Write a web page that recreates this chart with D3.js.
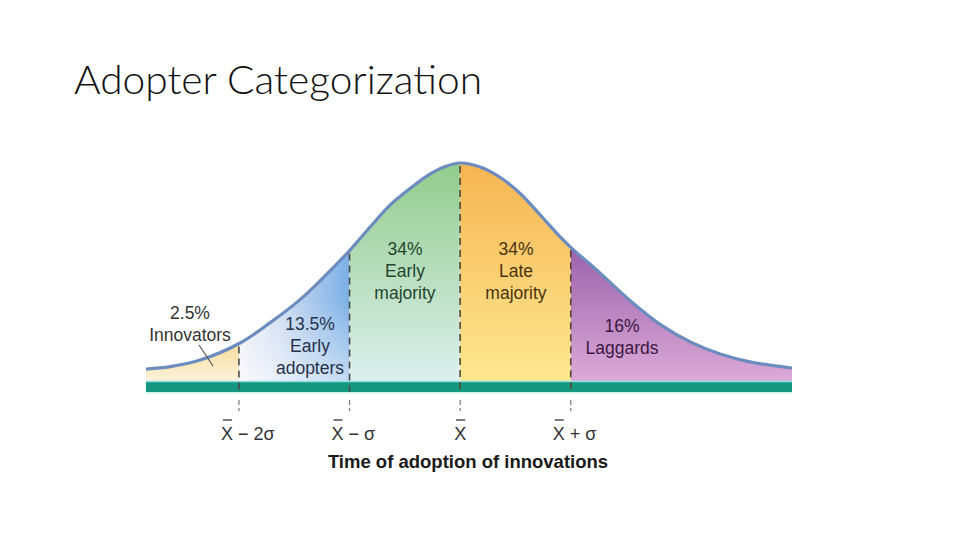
<!DOCTYPE html>
<html>
<head>
<meta charset="utf-8">
<script src="https://cdn.jsdelivr.net/npm/d3@7"></script>
<style>
  html, body { margin: 0; padding: 0; background: #fff; }
  svg { display: block; }
</style>
</head>
<body>
<svg id="chart" width="960" height="540"></svg>
<script>
// ---- DATA ----
// curve: position in standard deviations from the mean, relative height of the curve (peak = 1)
const curveSigma  = [-2.84, -2.62, -2.35, -1.99, -1.72, -1.45, -1.27, -1.0, -0.81, -0.63, -0.45, -0.27, -0.14, 0, 0.18, 0.36, 0.54, 0.72, 0.90, 1.0, 1.27, 1.54, 1.81, 2.08, 2.35, 2.62, 3.0];
const curveHeight = [0.059, 0.07, 0.1, 0.178, 0.27, 0.375, 0.46, 0.6, 0.71, 0.81, 0.885, 0.95, 0.983, 1.0, 0.982, 0.935, 0.862, 0.765, 0.665, 0.615, 0.495, 0.37, 0.262, 0.183, 0.128, 0.092, 0.064];
const categories  = ["Innovators", "Early adopters", "Early majority", "Late majority", "Laggards"];
const percents    = ["2.5%", "13.5%", "34%", "34%", "16%"];
const boundaries  = [-2.84, -2, -1, 0, 1, 3.0];
const tickSigma   = [-2, -1, 0, 1];
const tickLabels  = ["X − 2σ", "X − σ", "X", "X + σ"];
const axisTitle   = "Time of adoption of innovations";
const chartTitle  = "Adopter Categorization";

// ---- LAYOUT ----
const svg = d3.select("#chart");
const bandTop = 382, bandBottom = 392;
const x = d3.scaleLinear().domain([-2.84, 3.0]).range([146, 792]);
const y = d3.scaleLinear().domain([0, 1]).range([bandTop, 163]);

const pts = curveSigma.map((s, i) => [s, curveHeight[i]]);
const valueAt = s => {
  for (let i = 0; i < pts.length - 1; i++) {
    if (s >= pts[i][0] && s <= pts[i + 1][0]) {
      const t = (s - pts[i][0]) / (pts[i + 1][0] - pts[i][0]);
      return pts[i][1] + t * (pts[i + 1][1] - pts[i][1]);
    }
  }
  return pts[pts.length - 1][1];
};

// title
svg.append("text")
  .attr("x", 74).attr("y", 94)
  .attr("font-family", "Lato, 'Open Sans', sans-serif")
  .attr("font-weight", 300)
  .attr("font-size", 39)
  .attr("fill", "#111")
  .attr("textLength", 408)
  .attr("lengthAdjust", "spacingAndGlyphs")
  .text(chartTitle);

// gradients
const defs = svg.append("defs");
function vGrad(id, y1, y2, c1, c2) {
  const g = defs.append("linearGradient").attr("id", id)
    .attr("gradientUnits", "userSpaceOnUse")
    .attr("x1", 0).attr("x2", 0).attr("y1", y1).attr("y2", y2);
  g.append("stop").attr("offset", 0).attr("stop-color", c1);
  g.append("stop").attr("offset", 1).attr("stop-color", c2);
}
vGrad("g0", y(valueAt(-2)), bandTop, "#f8dc9c", "#fdf3dc");
{
  const g = defs.append("linearGradient").attr("id", "g1")
    .attr("gradientUnits", "userSpaceOnUse")
    .attr("x1", x(-2)).attr("x2", x(-1)).attr("y1", 0).attr("y2", 0);
  g.append("stop").attr("offset", 0).attr("stop-color", "#f2f0f8");
  g.append("stop").attr("offset", 0.35).attr("stop-color", "#d2def2");
  g.append("stop").attr("offset", 1).attr("stop-color", "#7cb0e6");
}
{
  const g = defs.append("linearGradient").attr("id", "g1w")
    .attr("gradientUnits", "userSpaceOnUse")
    .attr("x1", 0).attr("x2", 0).attr("y1", 300).attr("y2", bandTop);
  g.append("stop").attr("offset", 0).attr("stop-color", "#fff").attr("stop-opacity", 0);
  g.append("stop").attr("offset", 1).attr("stop-color", "#fff").attr("stop-opacity", 0.55);
}
vGrad("g2", y(1), bandTop, "#92cb8c", "#ddf0ef");
vGrad("g3", y(1), bandTop, "#f6b552", "#fde891");
vGrad("g4", y(valueAt(1)), bandTop, "#9a62aa", "#dcaad8");
const fills = ["url(#g0)", "url(#g1)", "url(#g2)", "url(#g3)", "url(#g4)"];

// clip to area under curve
const area = d3.area().x(d => x(d[0])).y0(bandTop).y1(d => y(d[1])).curve(d3.curveCatmullRom);
defs.append("clipPath").attr("id", "under").append("path").attr("d", area(pts));

const g = svg.append("g").attr("clip-path", "url(#under)");
g.selectAll("rect.seg").data(categories).join("rect")
  .attr("class", "seg")
  .attr("x", (d, i) => x(boundaries[i]))
  .attr("width", (d, i) => x(boundaries[i + 1]) - x(boundaries[i]))
  .attr("y", y(1) - 5).attr("height", bandTop - y(1) + 5)
  .attr("fill", (d, i) => fills[i]);
g.append("rect")
  .attr("x", x(-2)).attr("width", x(-1) - x(-2))
  .attr("y", 300).attr("height", bandTop - 300)
  .attr("fill", "url(#g1w)");

// band
svg.append("rect").attr("x", x(-2.84)).attr("width", x(3.0) - x(-2.84))
  .attr("y", bandTop).attr("height", bandBottom - bandTop).attr("fill", "#15977f");
svg.append("line").attr("x1", x(-2.84)).attr("x2", x(3.0)).attr("y1", bandTop - 0.5).attr("y2", bandTop - 0.5)
  .attr("stroke", "#8fe0e2").attr("stroke-width", 1.5);
svg.append("line").attr("x1", x(-2.84)).attr("x2", x(3.0)).attr("y1", bandBottom + 0.8).attr("y2", bandBottom + 0.8)
  .attr("stroke", "#cdf3f3").attr("stroke-width", 1.5);

// curve
const line = d3.line().x(d => x(d[0])).y(d => y(d[1])).curve(d3.curveCatmullRom);
svg.append("path").attr("d", line(pts)).attr("fill", "none")
  .attr("stroke", "#6c8bbf").attr("stroke-width", 3.2);

// dashed boundaries
svg.selectAll("line.div").data(tickSigma).join("line")
  .attr("class", "div")
  .attr("x1", d => x(d)).attr("x2", d => x(d))
  .attr("y1", d => y(valueAt(d)) + 3).attr("y2", bandBottom)
  .attr("stroke", (d, i) => i >= 2 ? "#5a4630" : "#4a4a4a")
  .attr("stroke-width", 1.6)
  .attr("stroke-dasharray", "7,5");
svg.selectAll("line.tick").data(tickSigma).join("line")
  .attr("class", "tick")
  .attr("x1", d => x(d)).attr("x2", d => x(d))
  .attr("y1", 400).attr("y2", 411)
  .attr("stroke", "#777").attr("stroke-width", 1.2)
  .attr("stroke-dasharray", "5,3");

// tick labels with overbar on X
const font = "'Liberation Sans', Arial, sans-serif";
tickLabels.forEach((lab, i) => {
  const tx = x(tickSigma[i]);
  const t = svg.append("text")
    .attr("y", 440)
    .attr("font-family", font).attr("font-size", 18).attr("fill", "#333")
    .attr("text-anchor", lab.length === 1 ? "middle" : "start")
    .attr("x", lab.length === 1 ? tx : tx - 18)
    .text(lab);
  const node = t.node();
  const st = node.getStartPositionOfChar(0);
  const w = node.getSubStringLength(0, 1);
  svg.append("line").attr("x1", st.x + 2).attr("x2", st.x + w - 1)
    .attr("y1", 420).attr("y2", 420).attr("stroke", "#444").attr("stroke-width", 1.4);
});

svg.append("text").attr("x", 468).attr("y", 468)
  .attr("text-anchor", "middle")
  .attr("font-family", font).attr("font-weight", "bold").attr("font-size", 18.5)
  .attr("fill", "#1a1a1a").text(axisTitle);

// category labels
const labelPos = [
  { cx: 190, base: 319, color: "#333333" },
  { cx: 310, base: 330, color: "#26324c" },
  { cx: 405, base: 255, color: "#24452c" },
  { cx: 516, base: 255, color: "#4a3410" },
  { cx: 622, base: 332, color: "#3c1842" }
];
categories.forEach((c, i) => {
  const lines = [percents[i], ...c.split(" ")];
  const p = labelPos[i];
  const t = svg.append("text")
    .attr("font-family", font).attr("font-size", 17.5)
    .attr("fill", p.color).attr("text-anchor", "middle");
  lines.forEach((l, j) => {
    t.append("tspan").attr("x", p.cx).attr("y", p.base + j * 22).text(l);
  });
});

// innovators pointer
svg.append("line").attr("x1", 199).attr("y1", 345).attr("x2", 213).attr("y2", 366)
  .attr("stroke", "#555").attr("stroke-width", 1.2);
</script>
</body>
</html>
